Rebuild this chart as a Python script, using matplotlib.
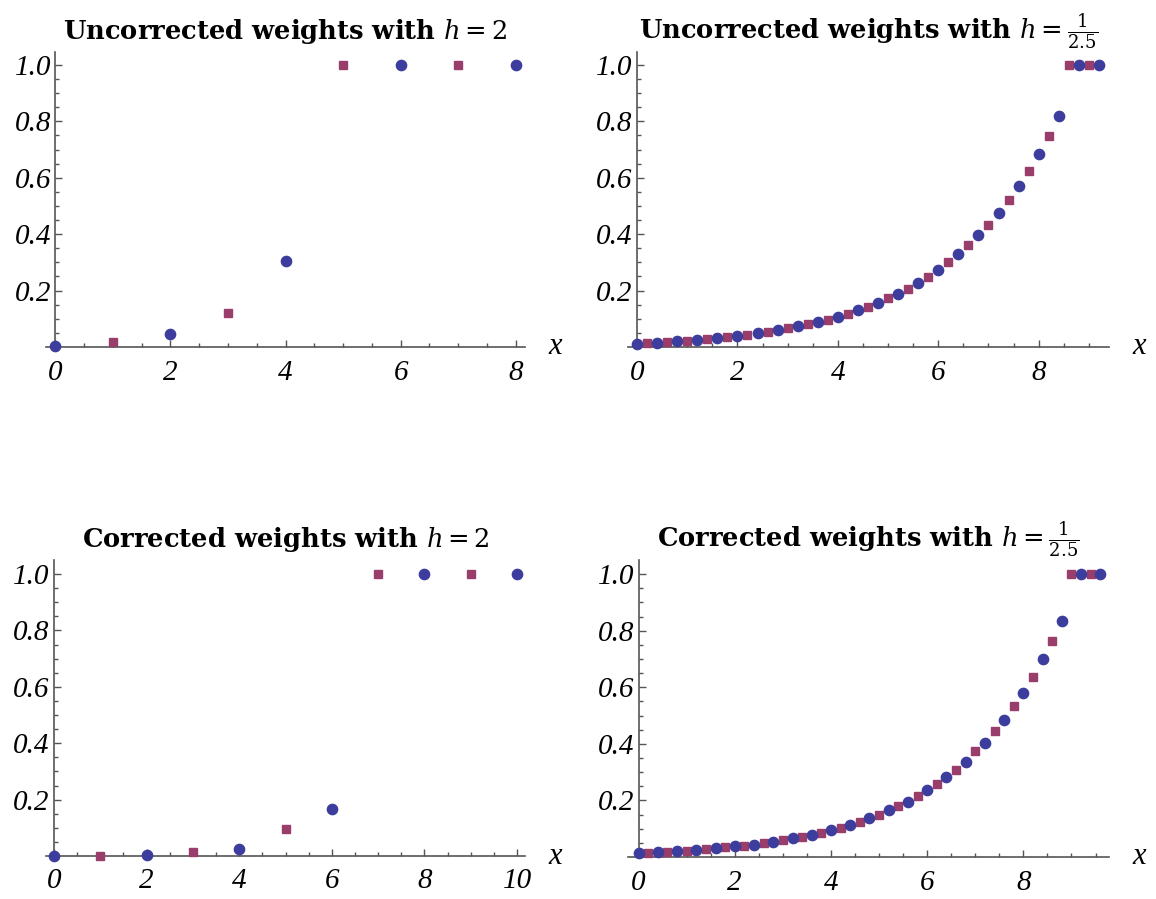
import matplotlib
matplotlib.use("Agg")
import matplotlib.pyplot as plt

# data (Mathematica ListPlot, two alternating point sets)
TL_CIRC_X = [0, 2, 4, 6, 8]
TL_CIRC_Y = [0.003, 0.045, 0.305, 1.0, 1.0]
TL_SQ_X = [1, 3, 5, 7]
TL_SQ_Y = [0.016, 0.12, 1.0, 1.0]

BL_CIRC_X = [0, 2, 4, 6, 8, 10]
BL_CIRC_Y = [0.001, 0.004, 0.024, 0.165, 1.0, 1.0]
BL_SQ_X = [1, 3, 5, 7, 9]
BL_SQ_Y = [0.001, 0.013, 0.095, 1.0, 1.0]

TR_CIRC_X = [0.0, 0.4, 0.8, 1.2, 1.6, 2.0, 2.4, 2.8, 3.2, 3.6, 4.0, 4.4,
             4.8, 5.2, 5.6, 6.0, 6.4, 6.8, 7.2, 7.6, 8.0, 8.4, 8.8, 9.2]
TR_CIRC_Y = [0.012, 0.015, 0.021, 0.026, 0.033, 0.040, 0.051, 0.061, 0.076,
             0.090, 0.108, 0.132, 0.157, 0.189, 0.228, 0.274, 0.331, 0.398,
             0.475, 0.572, 0.684, 0.819, 1.0, 1.0]
TR_SQ_X = [0.2, 0.6, 1.0, 1.4, 1.8, 2.2, 2.6, 3.0, 3.4, 3.8, 4.2, 4.6,
           5.0, 5.4, 5.8, 6.2, 6.6, 7.0, 7.4, 7.8, 8.2, 8.6, 9.0]
TR_SQ_Y = [0.014, 0.019, 0.023, 0.030, 0.037, 0.043, 0.054, 0.069, 0.083,
           0.097, 0.118, 0.142, 0.174, 0.207, 0.248, 0.303, 0.362, 0.434,
           0.521, 0.624, 0.748, 1.0, 1.0]

BR_CIRC_X = [0.0, 0.4, 0.8, 1.2, 1.6, 2.0, 2.4, 2.8, 3.2, 3.6, 4.0, 4.4,
             4.8, 5.2, 5.6, 6.0, 6.4, 6.8, 7.2, 7.6, 8.0, 8.4, 8.8, 9.2, 9.6]
BR_CIRC_Y = [0.015, 0.019, 0.022, 0.026, 0.031, 0.038, 0.044, 0.054, 0.066,
             0.079, 0.094, 0.114, 0.137, 0.165, 0.196, 0.236, 0.284, 0.337,
             0.404, 0.486, 0.581, 0.699, 0.833, 1.0, 1.0]
BR_SQ_X = [0.2, 0.6, 1.0, 1.4, 1.8, 2.2, 2.6, 3.0, 3.4, 3.8, 4.2, 4.6,
           5.0, 5.4, 5.8, 6.2, 6.6, 7.0, 7.4, 7.8, 8.2, 8.6, 9.0, 9.4]
BR_SQ_Y = [0.015, 0.019, 0.022, 0.028, 0.034, 0.040, 0.050, 0.061, 0.072,
           0.086, 0.104, 0.125, 0.150, 0.182, 0.217, 0.259, 0.309, 0.373,
           0.447, 0.535, 0.638, 0.765, 1.0, 1.0]

Y_TICKS = [0.2, 0.4, 0.6, 0.8, 1.0]
Y_TICK_LABELS = ["0.2", "0.4", "0.6", "0.8", "1.0"]

TITLES = [r"Uncorrected weights with $h = 2$",
          r"Uncorrected weights with $h = \frac{1}{2.5}$",
          r"Corrected weights with $h = 2$",
          r"Corrected weights with $h = \frac{1}{2.5}$"]

BLUE, PURPLE = "#3d3d9e", "#993d6b"
AXC = "#555555"

plt.rcParams["font.family"] = "serif"
plt.rcParams["font.serif"] = ["Liberation Serif", "DejaVu Serif"]
plt.rcParams["mathtext.fontset"] = "dejavuserif"

W, H = 1156, 899
fig = plt.figure(figsize=(W / 100, H / 100), dpi=100)


def px_rect(l, r, b, t):
    return [l / W, 1 - b / H, (r - l) / W, (b - t) / H]


panels = [
    (px_rect(46, 525, 347, 52), (-0.16, 8.16), 1.046, [0, 2, 4, 6, 8],
     TL_CIRC_X, TL_CIRC_Y, TL_SQ_X, TL_SQ_Y),
    (px_rect(628, 1109, 347, 52), (-0.18, 9.4), 1.046, [0, 2, 4, 6, 8],
     TR_CIRC_X, TR_CIRC_Y, TR_SQ_X, TR_SQ_Y),
    (px_rect(46, 525, 856, 560), (-0.17, 10.17), 1.05, [0, 2, 4, 6, 8, 10],
     BL_CIRC_X, BL_CIRC_Y, BL_SQ_X, BL_SQ_Y),
    (px_rect(628, 1109, 857, 560), (-0.22, 9.78), 1.05, [0, 2, 4, 6, 8],
     BR_CIRC_X, BR_CIRC_Y, BR_SQ_X, BR_SQ_Y),
]

for (rect, xlim, ytop, xticks, cx, cy, sx, sy), title in zip(panels, TITLES):
    ax = fig.add_axes(rect)
    ax.plot(sx, sy, "s", color=PURPLE, ms=6.3, mec=PURPLE, clip_on=False, zorder=3)
    ax.plot(cx, cy, "o", color=BLUE, ms=7.4, mec=BLUE, clip_on=False, zorder=3)
    ax.set_xlim(*xlim)
    ax.set_ylim(0, ytop)
    for s in ("top", "right"):
        ax.spines[s].set_visible(False)
    ax.spines["left"].set_position(("data", 0))
    for s in ("left", "bottom"):
        ax.spines[s].set_color(AXC)
        ax.spines[s].set_linewidth(1.2)
    ax.set_xticks(xticks, labels=[str(t) for t in xticks],
                  fontstyle="italic", fontsize=21)
    ax.set_yticks(Y_TICKS, labels=Y_TICK_LABELS, fontstyle="italic", fontsize=21)
    ax.set_xticks([v / 2 for v in range(0, int(xlim[1] * 2) + 1)], minor=True)
    ax.set_yticks([v / 20 for v in range(1, 21)], minor=True)
    ax.tick_params(which="both", direction="in", color=AXC, width=1)
    ax.tick_params(which="major", length=5)
    ax.tick_params(which="minor", length=3)
    ax.tick_params(axis="x", pad=9)
    ax.tick_params(axis="y", pad=3)
    ax.annotate("x", xy=(1, 0), xycoords="axes fraction", xytext=(22, 0),
                textcoords="offset points", ha="center", va="center",
                fontsize=22, fontstyle="italic")
    ax.set_title(title, fontsize=18.5, fontweight="bold", pad=9,
                 family="DejaVu Serif")

fig.savefig("out.png", dpi=100)
